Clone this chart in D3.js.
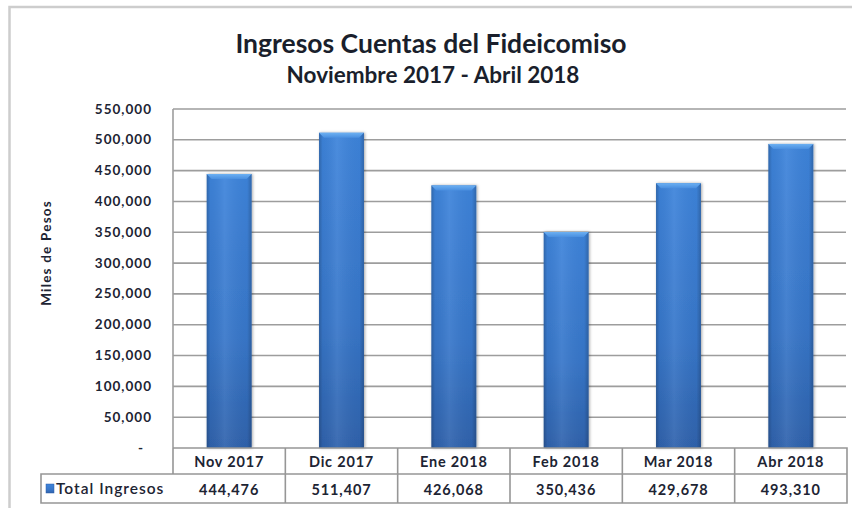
<!DOCTYPE html>
<html lang="es">
<head>
  <meta charset="UTF-8" />
  <title>Ingresos Cuentas del Fideicomiso</title>
  <script src="https://d3js.org/d3.v7.min.js"></script>
  <style>
    html, body {
      margin: 0;
      padding: 0;
      width: 852px;
      height: 508px;
      overflow: hidden;
      background: #fff;
    }
    svg {
      display: block;
      font-family: Lato, "Open Sans", sans-serif;
    }
    .tick-lbl, .cell-txt, .axis-title {
      fill: #1d2433;
      font-weight: bold;
    }
  </style>
</head>
<body>
<svg width="852" height="508"></svg>

<script>
const months = ["Nov 2017", "Dic 2017", "Ene 2018", "Feb 2018", "Mar 2018", "Abr 2018"];
const ingresos = [444476, 511407, 426068, 350436, 429678, 493310];
const yTicks = [0, 50000, 100000, 150000, 200000, 250000, 300000, 350000, 400000, 450000, 500000, 550000];
const seriesName = "Total Ingresos";
const title = "Ingresos Cuentas del Fideicomiso";
const subtitle = "Noviembre 2017 - Abril 2018";
const yLabel = "Miles de Pesos";

const svg = d3.select("svg");
const W = 852, H = 508;
const plot = {left: 173, right: 847, top: 109, bottom: 448};
const rowH1 = 26, rowH2 = 29, tableLeft = 41;

const data = months.map((m, i) => ({month: m, value: ingresos[i]}));

const x = d3.scaleBand().domain(months).range([plot.left, plot.right]).paddingInner(0.6).paddingOuter(0.3);
const col = d3.scaleBand().domain(months).range([plot.left, plot.right]).padding(0);
const y = d3.scaleLinear().domain([0, 550000]).range([plot.bottom, plot.top]);
const fmt = d3.format(",");

// defs: bar gradients + soft shadow
const defs = svg.append("defs");
const gv = defs.append("linearGradient").attr("id", "barV").attr("x1", 0).attr("y1", 0).attr("x2", 0).attr("y2", 1);
gv.append("stop").attr("offset", "0%").attr("stop-color", "#3e84db");
gv.append("stop").attr("offset", "60%").attr("stop-color", "#3877ca");
gv.append("stop").attr("offset", "100%").attr("stop-color", "#2f63ad");
const gh = defs.append("linearGradient").attr("id", "barH").attr("x1", 0).attr("y1", 0).attr("x2", 1).attr("y2", 0);
gh.append("stop").attr("offset", "0%").attr("stop-color", "#000").attr("stop-opacity", 0.22);
gh.append("stop").attr("offset", "8%").attr("stop-color", "#000").attr("stop-opacity", 0.04);
gh.append("stop").attr("offset", "40%").attr("stop-color", "#fff").attr("stop-opacity", 0.07);
gh.append("stop").attr("offset", "90%").attr("stop-color", "#000").attr("stop-opacity", 0.03);
gh.append("stop").attr("offset", "100%").attr("stop-color", "#000").attr("stop-opacity", 0.22);
const gc = defs.append("linearGradient").attr("id", "barCap").attr("x1", 0).attr("y1", 0).attr("x2", 0).attr("y2", 1);
gc.append("stop").attr("offset", "0%").attr("stop-color", "#6cb0f2");
gc.append("stop").attr("offset", "100%").attr("stop-color", "#4a8fe0");
const sh = defs.append("filter").attr("id", "shadow").attr("x", "-30%").attr("y", "-10%").attr("width", "160%").attr("height", "120%");
sh.append("feDropShadow").attr("dx", 1).attr("dy", 0).attr("stdDeviation", 1.6)
  .attr("flood-color", "#000").attr("flood-opacity", 0.35);

// outer frame
svg.append("path")
  .attr("d", `M${W},7H9.5V${H}`)
  .attr("fill", "none").attr("stroke", "#cdcdcd").attr("stroke-width", 2.5);

// titles
svg.append("text").attr("x", 431).attr("y", 53).attr("text-anchor", "middle")
  .attr("font-size", 26.5).attr("font-weight", "bold").attr("fill", "#1a1f2c")
  .text(title);
svg.append("text").attr("x", 433).attr("y", 83).attr("text-anchor", "middle")
  .attr("font-size", 22.5).attr("font-weight", "bold").attr("fill", "#1a1f2c")
  .text(subtitle);

// gridlines
svg.append("g").selectAll("line")
  .data(yTicks.filter(d => d > 0))
  .join("line")
  .attr("x1", plot.left).attr("x2", plot.right - 1)
  .attr("y1", d => y(d)).attr("y2", d => y(d))
  .attr("stroke", "#9d9d9d").attr("stroke-width", 1.6);

// left axis line
svg.append("line")
  .attr("x1", plot.left).attr("x2", plot.left)
  .attr("y1", plot.top).attr("y2", plot.bottom)
  .attr("stroke", "#9d9d9d").attr("stroke-width", 1.6);

// y tick labels
svg.append("g").selectAll("text")
  .data(yTicks)
  .join("text")
  .attr("class", "tick-lbl")
  .attr("x", d => d === 0 ? 144 : 152)
  .attr("y", d => y(d) + 4.5)
  .attr("text-anchor", "end")
  .attr("font-size", 13.5)
  .attr("letter-spacing", 1)
  .text(d => d === 0 ? "-" : fmt(d));

// y axis title
svg.append("text").attr("class", "axis-title")
  .attr("transform", `translate(51,253) rotate(-90)`)
  .attr("text-anchor", "middle")
  .attr("font-size", 13.5)
  .attr("letter-spacing", 1.2)
  .text(yLabel);

// bars
const bars = svg.append("g").selectAll("g")
  .data(data)
  .join("g");
bars.append("rect")
  .attr("x", d => x(d.month)).attr("width", x.bandwidth())
  .attr("y", d => y(d.value)).attr("height", d => y(0) - y(d.value))
  .attr("fill", "url(#barV)")
  .attr("filter", "url(#shadow)");
bars.append("rect")
  .attr("x", d => x(d.month)).attr("width", x.bandwidth())
  .attr("y", d => y(d.value)).attr("height", d => y(0) - y(d.value))
  .attr("fill", "url(#barH)");
bars.append("path")
  .attr("d", d => {
    const x0 = x(d.month), x1 = x0 + x.bandwidth(), t = y(d.value), c = 5;
    return `M${x0},${t}H${x1}L${x1 - c},${t + c}H${x0 + c}Z`;
  })
  .attr("fill", "url(#barCap)");

// data table
const tbl = svg.append("g").attr("fill", "none").attr("stroke", "#969696").attr("stroke-width", 1.6);
const t0 = plot.bottom, t1 = t0 + rowH1, t2 = t1 + rowH2;
tbl.append("path").attr("d",
  `M${plot.left},${t0}H${plot.right}V${t2}H${tableLeft}V${t1}H${plot.right}` +
  `M${tableLeft},${t1}H${plot.left}V${t0}`);
tbl.selectAll("line.col")
  .data(months.slice(1))
  .join("line")
  .attr("class", "col")
  .attr("x1", d => col(d)).attr("x2", d => col(d))
  .attr("y1", t0).attr("y2", t2);

svg.append("g").selectAll("text")
  .data(months)
  .join("text")
  .attr("class", "cell-txt")
  .attr("x", d => col(d) + col.bandwidth() / 2)
  .attr("y", t0 + 18.5)
  .attr("text-anchor", "middle")
  .attr("font-size", 14.5)
  .attr("letter-spacing", 0.8)
  .text(d => d);

svg.append("g").selectAll("text")
  .data(data)
  .join("text")
  .attr("class", "cell-txt")
  .attr("x", d => col(d.month) + col.bandwidth() / 2)
  .attr("y", t1 + 20.5)
  .attr("text-anchor", "middle")
  .attr("font-size", 14.5)
  .attr("letter-spacing", 0.9)
  .text(d => fmt(d.value));

// legend key in table
svg.append("rect")
  .attr("x", 46).attr("y", t1 + 10).attr("width", 8).attr("height", 9)
  .attr("fill", "url(#barV)").attr("stroke", "#2d5ea6").attr("stroke-width", 0.5);
svg.append("text")
  .attr("x", 56).attr("y", t1 + 19.5)
  .attr("font-size", 15.5)
  .attr("font-weight", 600)
  .attr("fill", "#1d2433")
  .attr("letter-spacing", 1)
  .text(seriesName);
</script>
</body>
</html>
